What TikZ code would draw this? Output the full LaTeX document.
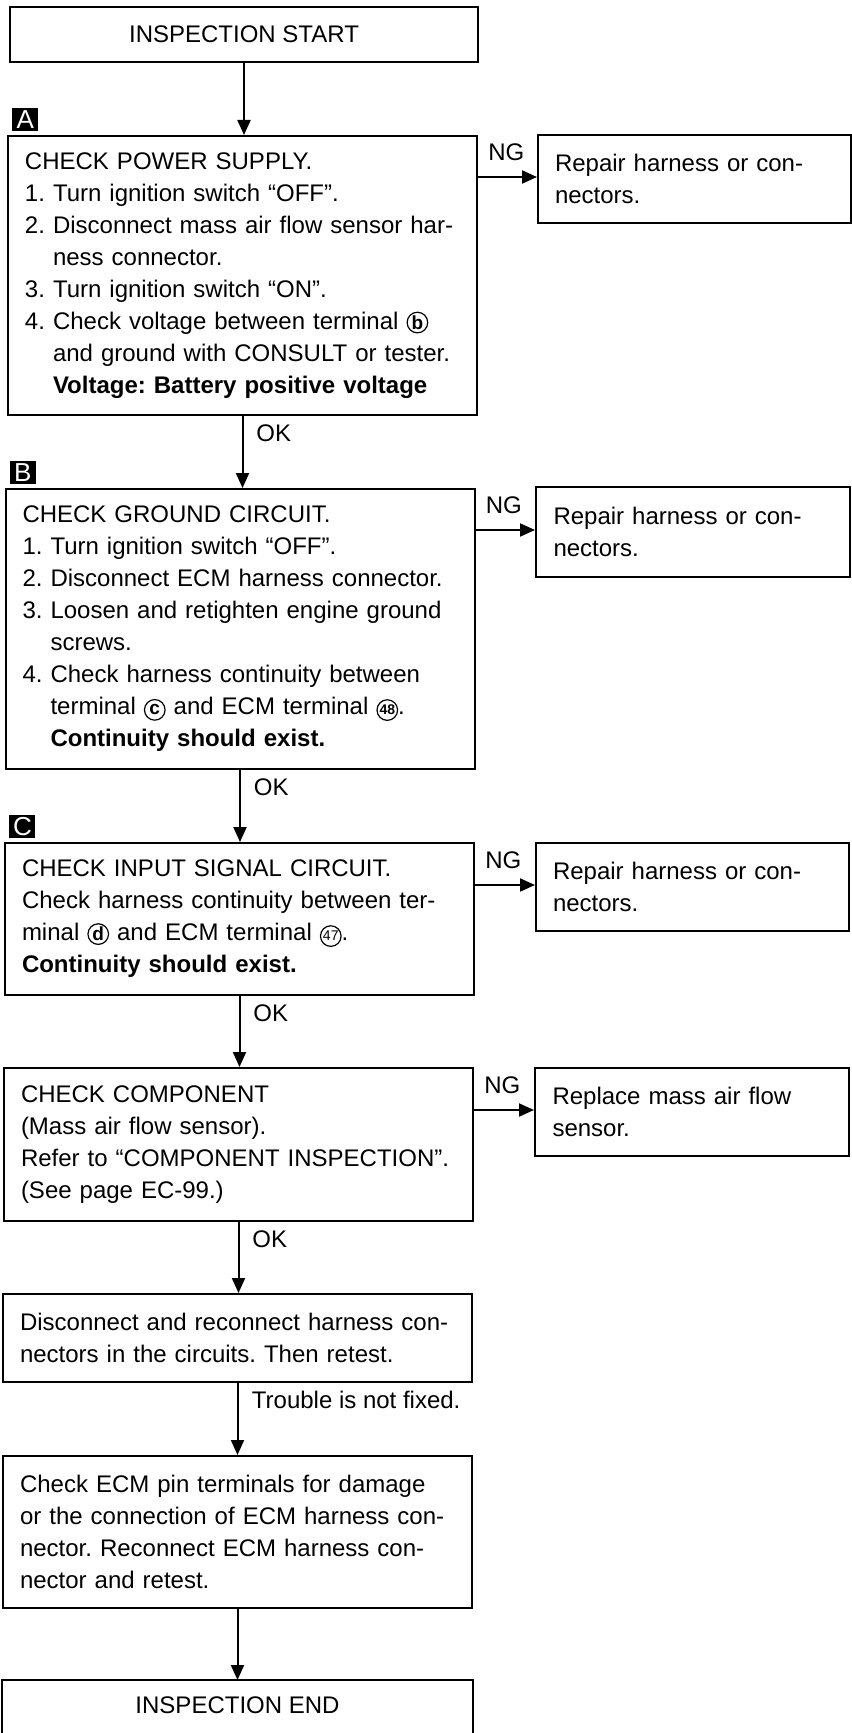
\documentclass[tikz,border=0pt]{standalone}
\usepackage{fontspec}
\setmainfont{Liberation Sans}
\usetikzlibrary{arrows.meta,calc}
\frenchspacing
\newcommand\circl[2]{\tikz[baseline=(circtmp.base)]\node[draw,circle,line width=0.6pt,inner sep=0pt,minimum size=10.3pt,font=#1](circtmp){#2};}
\newcommand\ind{\phantom{4. }}
\newcommand\lin[1]{\mbox{#1}}
\begin{document}
\begin{tikzpicture}[x=0.5pt,y=-0.5pt,
  every node/.style={font=\fontsize{12}{16}\selectfont\frenchspacing},
  box/.style={draw,line width=1pt,inner xsep=8.5pt,inner ysep=0pt,align=left},
  mainbox/.style={box,minimum width=234.5pt,text width=217.5pt},
  sidebox/.style={box,minimum width=156.5pt,text width=139.5pt},
  tag/.style={fill=black,text=white,inner sep=0pt,minimum width=13pt,minimum height=11.5pt,font=\fontsize{13}{13}\selectfont},
  lbl/.style={inner sep=0pt},
  arr/.style={line width=1pt,-{Triangle[width=6.5pt,length=7.5pt]}}]
\useasboundingbox (0,0) rectangle (851,1733);

% main column
\node[box,align=center,minimum width=234pt,minimum height=27.5pt] (start) at (244,34.5) {INSPECTION START};

\node[mainbox,minimum height=139.5pt] (A) at (242.5,275.5) {%
\lin{CHECK POWER SUPPLY.}\\
\lin{1. Turn ignition switch “OFF”.}\\
\lin{2. Disconnect mass air flow sensor har-}\\
\lin{\ind ness connector.}\\
\lin{3. Turn ignition switch “ON”.}\\
\lin{4. Check voltage between terminal \circl{\fontsize{9.5}{9.5}\selectfont\bfseries}{b}}\\
\lin{\ind and ground with CONSULT or tester.}\\
\lin{\ind\textbf{Voltage: Battery positive voltage}}};

\node[mainbox,minimum height=140pt] (B) at (240,629) {%
\lin{CHECK GROUND CIRCUIT.}\\
\lin{1. Turn ignition switch “OFF”.}\\
\lin{2. Disconnect ECM harness connector.}\\
\lin{3. Loosen and retighten engine ground}\\
\lin{\ind screws.}\\
\lin{4. Check harness continuity between}\\
\lin{\ind terminal \circl{\fontsize{9.5}{9.5}\selectfont\bfseries}{c} and ECM terminal \circl{\fontsize{7}{7}\selectfont\bfseries}{48}.}\\
\lin{\ind\textbf{Continuity should exist.}}};

\node[mainbox,minimum height=76pt] (C) at (239.5,919) {%
\lin{CHECK INPUT SIGNAL CIRCUIT.}\\
\lin{Check harness continuity between ter-}\\
\lin{minal \circl{\fontsize{9.5}{9.5}\selectfont\bfseries}{d} and ECM terminal \circl{\fontsize{7}{7}\selectfont}{47}.}\\
\lin{\textbf{Continuity should exist.}}};

\node[mainbox,minimum height=76.5pt] (D) at (238.5,1144.5) {%
\lin{CHECK COMPONENT}\\
\lin{(Mass air flow sensor).}\\
\lin{Refer to “COMPONENT INSPECTION”.}\\
\lin{(See page EC-99.)}};

\node[mainbox,minimum height=44pt] (E) at (237.5,1338) {%
\lin{Disconnect and reconnect harness con-}\\
\lin{nectors in the circuits. Then retest.}};

\node[mainbox,minimum height=76pt] (F) at (237.5,1532) {%
\lin{Check ECM pin terminals for damage}\\
\lin{or the connection of ECM harness con-}\\
\lin{nector. Reconnect ECM harness con-}\\
\lin{nector and retest.}};

\node[box,draw=none,align=center,minimum width=234.5pt,minimum height=24pt] (END) at (237.5,1705) {INSPECTION END};
\draw[line width=1pt] ($(END.south west)+(0,40)$) -- (END.north west) -- (END.north east) -- ($(END.south east)+(0,40)$);

% side boxes
\node[sidebox,minimum width=155.5pt,minimum height=44pt] (RA) at (694.5,179) {Repair harness or con-\\nectors.};
\node[sidebox,minimum width=157pt,minimum height=45pt] (RB) at (693,532) {Repair harness or con-\\nectors.};
\node[sidebox,minimum height=44pt] (RC) at (692.5,887) {Repair harness or con-\\nectors.};
\node[sidebox,minimum width=157pt,minimum height=44pt] (RD) at (692,1112) {Replace mass air flow\\sensor.};

% tags
\node[tag,anchor=south west] (tagA) at ($(A.north west)+(5,-4)$) {A};
\node[tag,anchor=south west] (tagB) at ($(B.north west)+(5,-4)$) {B};
\node[tag,anchor=south west] (tagC) at ($(C.north west)+(5,-4)$) {C};

% main connectors
\draw[arr] (start.south) -- (start.south |- A.north);
\draw[arr] (A.south) -- (A.south |- B.north);
\draw[arr] (B.south) -- (B.south |- C.north);
\draw[arr] (C.south) -- (C.south |- D.north);
\draw[arr] (D.south) -- (D.south |- E.north);
\draw[arr] (E.south) -- (E.south |- F.north);
\draw[arr] (F.south) -- (F.south |- END.north);

% OK labels
\node[lbl,anchor=north west] (okA) at ($(A.south)+(13.5,8)$) {OK};
\node[lbl,anchor=north west] (okB) at ($(B.south)+(13.5,8)$) {OK};
\node[lbl,anchor=north west] (okC) at ($(C.south)+(13.5,8)$) {OK};
\node[lbl,anchor=north west] (okD) at ($(D.south)+(13.5,8)$) {OK};
\node[lbl,anchor=north west] (trE) at ($(E.south)+(14,8)$) {Trouble is not fixed.};

% NG connectors
\draw[arr] ($(A.east |- RA.west)+(0,-2)$) -- ($(RA.west)+(0,-2)$);
\draw[arr] ($(B.east |- RB.west)+(0,-2)$) -- ($(RB.west)+(0,-2)$);
\draw[arr] ($(C.east |- RC.west)+(0,-2)$) -- ($(RC.west)+(0,-2)$);
\draw[arr] ($(D.east |- RD.west)+(0,-2)$) -- ($(RD.west)+(0,-2)$);
\node[lbl,anchor=base west] (ngA) at ($(A.east |- RA.west)+(10,-18.5)$) {NG};
\node[lbl,anchor=base west] (ngB) at ($(B.east |- RB.west)+(10,-18.5)$) {NG};
\node[lbl,anchor=base west] (ngC) at ($(C.east |- RC.west)+(10,-18.5)$) {NG};
\node[lbl,anchor=base west] (ngD) at ($(D.east |- RD.west)+(10,-18.5)$) {NG};
\end{tikzpicture}
\end{document}
